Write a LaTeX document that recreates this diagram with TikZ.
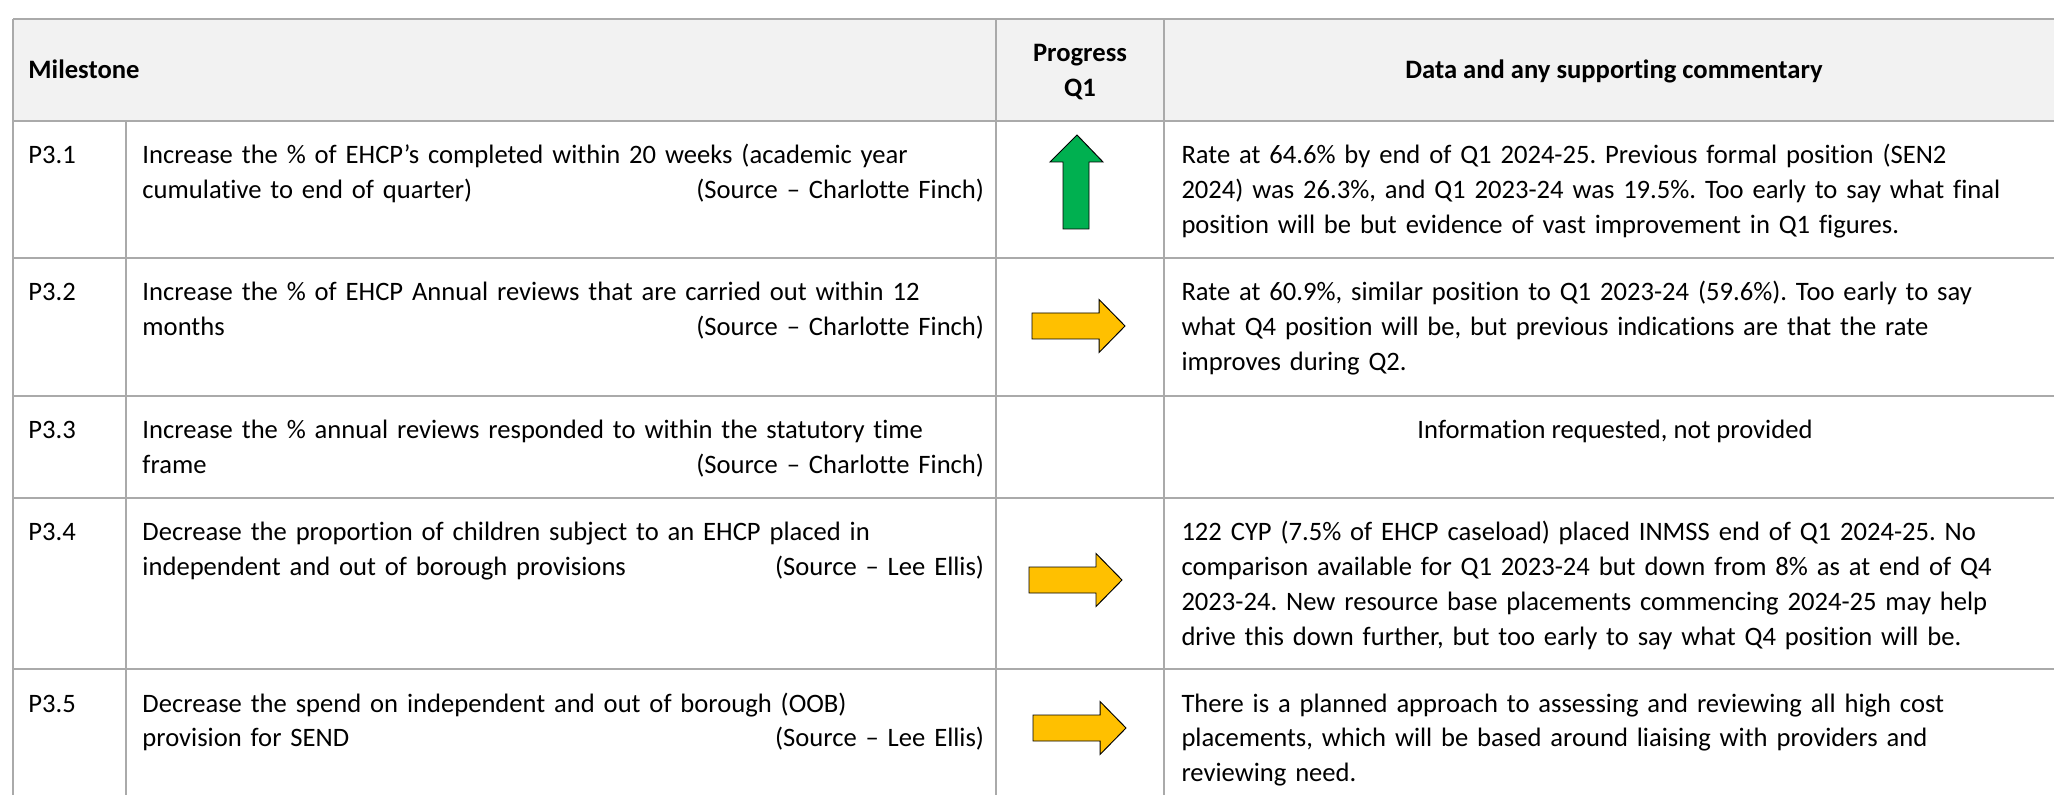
\documentclass[tikz,border=0pt]{standalone}
\usepackage{fontspec}
\setmainfont{Carlito}[Ligatures={NoCommon}]
\frenchspacing

\definecolor{rulegray}{RGB}{170,170,170}
\definecolor{headgray}{RGB}{242,242,242}
\definecolor{upgreen}{RGB}{0,176,80}
\definecolor{amber}{RGB}{255,192,0}

\tikzset{
  rule/.style = {draw=rulegray, line width=0.7pt},
  celltext/.style = {inner sep=0pt, align=left, font=\fontsize{11pt}{14.47pt}\selectfont},
  headtext/.style = {inner sep=0pt, font=\fontsize{11pt}{14.47pt}\selectfont\bfseries},
  greenarrow/.style = {draw=black, line width=0.4pt, fill=upgreen},
  amberarrow/.style = {draw=black, line width=0.4pt, fill=amber}
}
\newcommand{\srcfill}{\hskip 0pt plus 1fill}

\begin{document}
\begin{tikzpicture}[x=0.4135pt, y=-0.4135pt]
  \useasboundingbox (0,0) rectangle (2054,795);

  % Draw header band and cell rules
  \fill[headgray] (13,19) rectangle (2054,121);
  \draw[rule] (13,19) -- (2054,19);
  \draw[rule] (13,121) -- (2054,121);
  \draw[rule] (13,258) -- (2054,258);
  \draw[rule] (13,396) -- (2054,396);
  \draw[rule] (13,498) -- (2054,498);
  \draw[rule] (13,669) -- (2054,669);
  \draw[rule] (13,19) -- (13,795);
  \draw[rule] (126,121) -- (126,795);
  \draw[rule] (996,19) -- (996,795);
  \draw[rule] (1164,19) -- (1164,795);

  % Header
  \node[headtext, anchor=base west] (milestone) at (28,79) {Milestone};
  \node[headtext, text width=62pt, align=center, anchor=base] (progress) at (1080,62) {Progress\\Q1};
  \node[headtext, anchor=base] (commentary) at (1614,79) {Data and any supporting commentary};

  % Milestone ids
  \node[celltext, anchor=base west] (p31) at (28,164) {P3.1};
  \node[celltext, anchor=base west] (p32) at (28,301) {P3.2};
  \node[celltext, anchor=base west] (p33) at (28,439) {P3.3};
  \node[celltext, anchor=base west] (p34) at (28,541) {P3.4};
  \node[celltext, anchor=base west] (p35) at (28,712) {P3.5};

  % Milestones
  \node[celltext, text width=348pt, anchor=base west] (m31) at (142,164)
    {Increase the \% of EHCP’s completed within 20 weeks (academic year\\cumulative to end of quarter)\srcfill(Source – Charlotte Finch)};
  \node[celltext, text width=348pt, anchor=base west] (m32) at (142,301)
    {Increase the \% of EHCP Annual reviews that are carried out within 12\\months\srcfill(Source – Charlotte Finch)};
  \node[celltext, text width=348pt, anchor=base west] (m33) at (142,439)
    {Increase the \% annual reviews responded to within the statutory time\\frame\srcfill(Source – Charlotte Finch)};
  \node[celltext, text width=348pt, anchor=base west] (m34) at (142,541)
    {Decrease the proportion of children subject to an EHCP placed in\\independent and out of borough provisions\srcfill(Source – Lee Ellis)};
  \node[celltext, text width=348pt, anchor=base west] (m35) at (142,712)
    {Decrease the spend on independent and out of borough (OOB)\\provision for SEND\srcfill(Source – Lee Ellis)};

  % Progress arrows
  \draw[greenarrow] (1077,135) -- (1103,162) -- (1089,162) -- (1089,229)
    -- (1063,229) -- (1063,162) -- (1050,162) -- cycle;
  \draw[amberarrow] (1032,326) ++(0,-13) -- ++(67,0) -- ++(0,-13.5) -- ++(26,26.5)
    -- ++(-26,26.5) -- ++(0,-13.5) -- ++(-67,0) -- cycle;
  \draw[amberarrow] (1029,580) ++(0,-13) -- ++(67,0) -- ++(0,-13.5) -- ++(26,26.5)
    -- ++(-26,26.5) -- ++(0,-13.5) -- ++(-67,0) -- cycle;
  \draw[amberarrow] (1033,728) ++(0,-13) -- ++(67,0) -- ++(0,-13.5) -- ++(26,26.5)
    -- ++(-26,26.5) -- ++(0,-13.5) -- ++(-67,0) -- cycle;

  % Commentary
  \node[celltext, text width=364pt, anchor=base west] (d31) at (1181,164)
    {Rate at 64.6\% by end of Q1 2024-25. Previous formal position (SEN2\\2024) was 26.3\%, and Q1 2023-24 was 19.5\%. Too early to say what final\\position will be but evidence of vast improvement in Q1 figures.};
  \node[celltext, text width=364pt, anchor=base west] (d32) at (1181,301)
    {Rate at 60.9\%, similar position to Q1 2023-24 (59.6\%). Too early to say\\what Q4 position will be, but previous indications are that the rate\\improves during Q2.};
  \node[celltext, anchor=base] (d33) at (1615,439) {Information requested, not provided};
  \node[celltext, text width=364pt, anchor=base west] (d34) at (1181,541)
    {122 CYP (7.5\% of EHCP caseload) placed INMSS end of Q1 2024-25. No\\comparison available for Q1 2023-24 but down from 8\% as at end of Q4\\2023-24. New resource base placements commencing 2024-25 may help\\drive this down further, but too early to say what Q4 position will be.};
  \node[celltext, text width=364pt, anchor=base west] (d35) at (1181,712)
    {There is a planned approach to assessing and reviewing all high cost\\placements, which will be based around liaising with providers and\\reviewing need.};
\end{tikzpicture}
\end{document}
